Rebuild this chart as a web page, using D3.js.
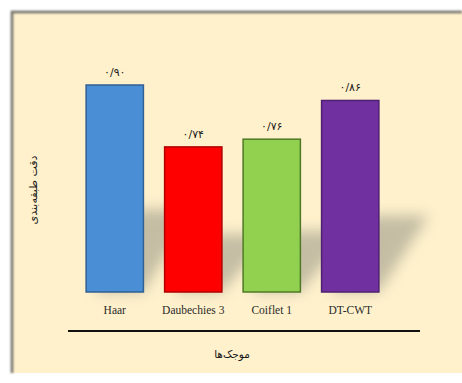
<!DOCTYPE html>
<html>
<head>
<meta charset="utf-8">
<script src="https://cdn.jsdelivr.net/npm/d3@7"></script>
<style>
  html, body { margin: 0; padding: 0; background: #ffffff; }
  svg { display: block; }
</style>
</head>
<body>
<svg id="chart" width="462" height="383"></svg>
<script>
// Wavelet families compared and their classification accuracy
const categories = ["Haar", "Daubechies 3", "Coiflet 1", "DT-CWT"];
const accuracy = [0.90, 0.74, 0.76, 0.86];
const valueLabels = ["۰/۹۰", "۰/۷۴", "۰/۷۶", "۰/۸۶"];
const fills = ["#4a8fd6", "#ff0000", "#92d050", "#7030a0"];
const strokes = ["#2f5f93", "#b00000", "#4f7a25", "#4e1f72"];
const xTitle = "موجک‌ها";
const yTitle = "دقت طبقه‌بندی";

const svg = d3.select("#chart");
const W = 462, H = 383;
const defs = svg.append("defs");

defs.append("filter").attr("id", "soft")
  .attr("x", "-50%").attr("y", "-50%").attr("width", "200%").attr("height", "200%")
  .append("feGaussianBlur").attr("stdDeviation", 7);
defs.append("filter").attr("id", "edge")
  .attr("x", "-50%").attr("y", "-50%").attr("width", "200%").attr("height", "200%")
  .append("feGaussianBlur").attr("stdDeviation", 1.2);

// panel
svg.append("rect").attr("x", 11).attr("y", 11).attr("width", W - 11).attr("height", 362)
  .attr("fill", "#fff1cc");
svg.append("path").attr("d", `M12,373 V12 H${W}`)
  .attr("fill", "none").attr("stroke", "#6d6d6d").attr("stroke-width", 2.5)
  .attr("filter", "url(#edge)");

const plot = { left: 72, right: 393, top: 85, bottom: 292 };

const x = d3.scaleBand().domain(categories)
  .range([plot.left, plot.right]).paddingInner(0.27).paddingOuter(0.18);
const y = d3.scaleLinear().domain([0.365, 0.90]).range([plot.bottom, plot.top]);

const data = categories.map((c, i) => ({ c, v: accuracy[i], label: valueLabels[i], fill: fills[i], stroke: strokes[i] }));

// cast shadows behind the bars
svg.append("g").selectAll("path").data(data).join("path")
  .attr("d", d => {
    const x0 = x(d.c), x1 = x0 + x.bandwidth(), b = y(0.365);
    const h = (b - y(d.v)) * 0.4;
    return `M${x0 + 8},${b} L${x1},${b} L${x1 + 50},${b - h} L${x0 + 50},${b - h} Z`;
  })
  .attr("fill", "#8a8a7c").attr("opacity", 0.5).attr("filter", "url(#soft)");

// bars
svg.append("g").selectAll("rect").data(data).join("rect")
  .attr("x", d => x(d.c))
  .attr("y", d => y(d.v))
  .attr("width", x.bandwidth())
  .attr("height", d => y(0.365) - y(d.v))
  .attr("fill", d => d.fill)
  .attr("stroke", d => d.stroke)
  .attr("stroke-width", 1.5);

// value labels
svg.append("g").selectAll("text").data(data).join("text")
  .attr("x", d => x(d.c) + x.bandwidth() / 2)
  .attr("y", d => y(d.v) - 9)
  .attr("text-anchor", "middle")
  .attr("font-family", "DejaVu Sans, sans-serif")
  .attr("font-size", 11)
  .attr("fill", "#1a1a1a")
  .text(d => d.label);

// category labels
svg.append("g").selectAll("text").data(data).join("text")
  .attr("x", d => x(d.c) + x.bandwidth() / 2)
  .attr("y", 314)
  .attr("text-anchor", "middle")
  .attr("font-family", "Liberation Serif, serif")
  .attr("font-size", 11.5)
  .attr("fill", "#2a2a2a")
  .text(d => d.c);

// horizontal rule under the categories
svg.append("line").attr("x1", 68).attr("x2", 420).attr("y1", 331).attr("y2", 331)
  .attr("stroke", "#111").attr("stroke-width", 1.8);

// axis titles
svg.append("text").attr("x", 232).attr("y", 358)
  .attr("text-anchor", "middle").attr("direction", "rtl")
  .attr("font-family", "DejaVu Sans, sans-serif").attr("font-size", 10.5)
  .attr("fill", "#1a1a1a").text(xTitle);

svg.append("text")
  .attr("transform", "translate(37,190) rotate(-90)")
  .attr("text-anchor", "middle").attr("direction", "rtl")
  .attr("font-family", "DejaVu Sans, sans-serif").attr("font-size", 11)
  .attr("fill", "#1a1a1a").text(yTitle);
</script>
</body>
</html>
